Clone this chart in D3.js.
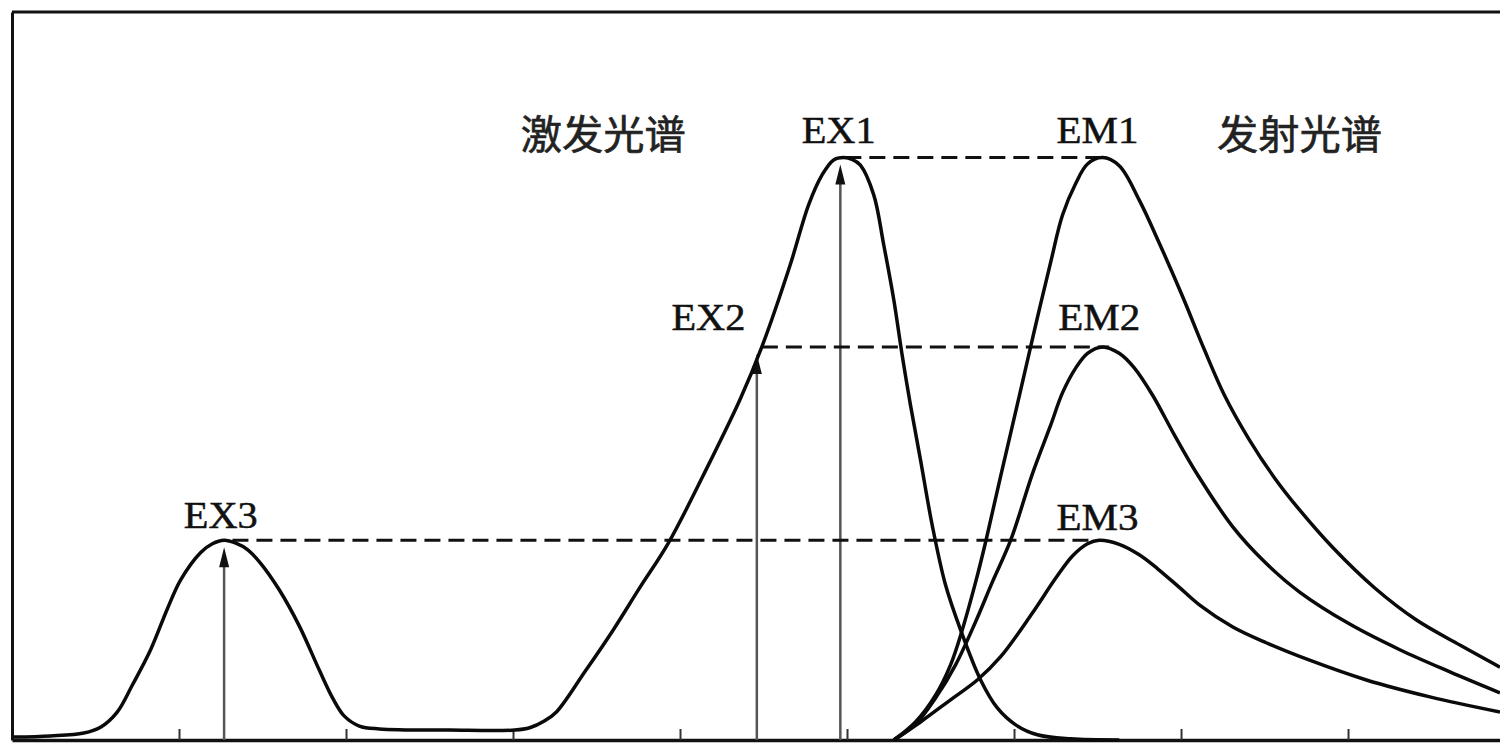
<!DOCTYPE html>
<html>
<head>
<meta charset="utf-8">
<script src="https://cdn.jsdelivr.net/npm/d3@7"></script>
<style>
  html, body { margin: 0; padding: 0; background: #fff; }
  svg { display: block; }
</style>
</head>
<body>
<svg id="chart" width="1500" height="743"></svg>
<script>
// ---------- data (arbitrary wavelength units / relative intensity) ----------
const tickValues = [1, 2, 3, 4, 5, 6, 7, 8];

const excitation = [
  [0.01,0.005],[0.23,0.007],[0.43,0.012],[0.53,0.022],[0.63,0.048],[0.72,0.094],
  [0.83,0.155],[0.93,0.225],[1.01,0.275],[1.13,0.322],[1.20,0.337],[1.27,0.343],
  [1.34,0.338],[1.41,0.327],[1.49,0.303],[1.60,0.258],[1.72,0.196],[1.84,0.120],
  [1.92,0.072],[1.99,0.041],[2.08,0.024],[2.20,0.019],[2.62,0.017],[3.01,0.017],
  [3.10,0.021],[3.19,0.033],[3.26,0.048],[3.43,0.117],[3.60,0.189],[3.76,0.262],
  [3.93,0.338],[4.18,0.478],[4.36,0.585],[4.49,0.675],[4.66,0.816],[4.77,0.919],
  [4.85,0.970],[4.92,0.996],[4.98,1.0],[5.03,0.997],[5.08,0.987],[5.16,0.936],
  [5.22,0.850],[5.28,0.756],[5.33,0.661],[5.38,0.575],[5.44,0.481],[5.51,0.369],
  [5.59,0.266],[5.68,0.189],[5.80,0.103],[5.90,0.055],[6.01,0.026],[6.14,0.009],
  [6.34,0.002],[6.63,0.0]
];

const em1 = [
  [5.28,0.0],[5.41,0.031],[5.53,0.077],[5.62,0.129],[5.69,0.189],[5.77,0.271],
  [5.83,0.340],[5.92,0.453],[6.04,0.601],[6.13,0.713],[6.22,0.821],[6.29,0.901],
  [6.37,0.956],[6.44,0.989],[6.53,1.0],[6.63,0.986],[6.75,0.927],[6.87,0.853],
  [7.01,0.761],[7.14,0.670],[7.26,0.592],[7.41,0.515],[7.56,0.450],[7.71,0.395],
  [7.91,0.330],[8.16,0.261],[8.41,0.206],[8.67,0.163],[8.91,0.125]
];

const em2 = [
  [5.28,0.0],[5.41,0.027],[5.53,0.072],[5.65,0.129],[5.77,0.203],[5.87,0.271],
  [5.98,0.343],[6.11,0.457],[6.22,0.541],[6.29,0.596],[6.37,0.639],[6.44,0.664],
  [6.53,0.675],[6.63,0.664],[6.72,0.639],[6.83,0.592],[6.96,0.524],[7.10,0.455],
  [7.31,0.366],[7.50,0.306],[7.71,0.254],[8.01,0.199],[8.31,0.155],[8.61,0.117],
  [8.91,0.081]
];

const em3 = [
  [5.28,0.0],[5.44,0.031],[5.62,0.069],[5.78,0.103],[5.92,0.143],[6.11,0.218],
  [6.25,0.278],[6.35,0.316],[6.44,0.337],[6.51,0.343],[6.63,0.336],[6.75,0.318],
  [6.86,0.294],[6.99,0.262],[7.11,0.232],[7.31,0.194],[7.51,0.167],[7.77,0.137],
  [8.11,0.103],[8.49,0.074],[8.91,0.048]
];

// excitation wavelengths (arrows) and their intensity levels
const exWavelengths = [1.27, 4.46, 4.96];
const exLevels      = [0.343, 0.675, 1.0];

// dashed level lines: level, start, end
const levelLines = [
  [1.0,   4.99, 6.52],
  [0.675, 4.49, 6.57],
  [0.343, 1.32, 6.45]
];

// text labels: text, x, y
const peakLabels = [
  ["EX1", 4.95, 1.025], ["EM1", 6.50, 1.025],
  ["EX2", 4.17, 0.704], ["EM2", 6.51, 0.704],
  ["EX3", 1.25, 0.364], ["EM3", 6.50, 0.361]
];
const titleLabels = [
  ["激发光谱", 3.54, 1.015],
  ["发射光谱", 7.71, 1.015]
];

// ---------- drawing ----------
const svg = d3.select("#chart");
const x = d3.scaleLinear().domain([0, 8.91]).range([12, 1500]);
const y = d3.scaleLinear().domain([0, 1.25]).range([740, 12]);

// frame: top border
svg.append("line")
  .attr("x1", x(0)).attr("x2", 1500)
  .attr("y1", y(1.25)).attr("y2", y(1.25))
  .attr("stroke", "#111").attr("stroke-width", 3);

// left axis
const gl = svg.append("g").attr("transform", `translate(${x(0)},0)`)
  .call(d3.axisLeft(y).tickValues([]).tickSizeOuter(0));
gl.select(".domain").attr("stroke", "#111").attr("stroke-width", 3);

// bottom axis with upward ticks
const gb = svg.append("g").attr("transform", `translate(0,${y(0)})`)
  .call(d3.axisBottom(x).tickValues(tickValues).tickSize(-11).tickSizeOuter(0).tickFormat(""));
gb.select(".domain").attr("stroke", "#111").attr("stroke-width", 3.5);
gb.selectAll(".tick line").attr("stroke", "#333").attr("stroke-width", 2);

// arrows (excitation wavelengths)
exWavelengths.forEach((w, i) => {
  const px = x(w);
  const tip = y(exLevels[i]) + 7;
  svg.append("line")
    .attr("x1", px).attr("x2", px)
    .attr("y1", y(0)).attr("y2", tip + 10)
    .attr("stroke", "#555").attr("stroke-width", 2.5);
  svg.append("path")
    .attr("d", `M${px},${tip} L${px - 5},${tip + 20} L${px + 5},${tip + 20} Z`)
    .attr("fill", "#111");
});

// dashed level lines
svg.selectAll(".lvl").data(levelLines).join("line")
  .attr("x1", d => x(d[1])).attr("x2", d => x(d[2]))
  .attr("y1", d => y(d[0])).attr("y2", d => y(d[0]))
  .attr("stroke", "#111").attr("stroke-width", 3)
  .attr("stroke-dasharray", "16,8");

// spectra curves
const line = d3.line().x(d => x(d[0])).y(d => y(d[1])).curve(d3.curveCatmullRom.alpha(0.5));
[excitation, em1, em2, em3].forEach(s => {
  svg.append("path").datum(s)
    .attr("d", line)
    .attr("fill", "none")
    .attr("stroke", "#0a0a0a")
    .attr("stroke-width", 3.5)
    .attr("stroke-linejoin", "round");
});

// peak labels
svg.selectAll(".pk").data(peakLabels).join("text")
  .attr("x", d => x(d[1])).attr("y", d => y(d[2]))
  .attr("text-anchor", "middle")
  .attr("font-family", "'Liberation Serif', 'DejaVu Serif', serif")
  .attr("font-size", 37)
  .attr("fill", "#111")
  .attr("stroke", "#111").attr("stroke-width", 0.5)
  .attr("textLength", d => d[0].includes("M") ? 82 : 74)
  .attr("lengthAdjust", "spacingAndGlyphs")
  .text(d => d[0]);

// titles
svg.selectAll(".tt").data(titleLabels).join("text")
  .attr("x", d => x(d[1])).attr("y", d => y(d[2]))
  .attr("text-anchor", "middle")
  .attr("font-family", "'Noto Sans CJK SC', sans-serif")
  .attr("font-size", 40)
  .attr("fill", "#222")
  .attr("stroke", "#222").attr("stroke-width", 0.6)
  .attr("textLength", 165)
  .attr("lengthAdjust", "spacingAndGlyphs")
  .text(d => d[0]);
</script>
</body>
</html>
